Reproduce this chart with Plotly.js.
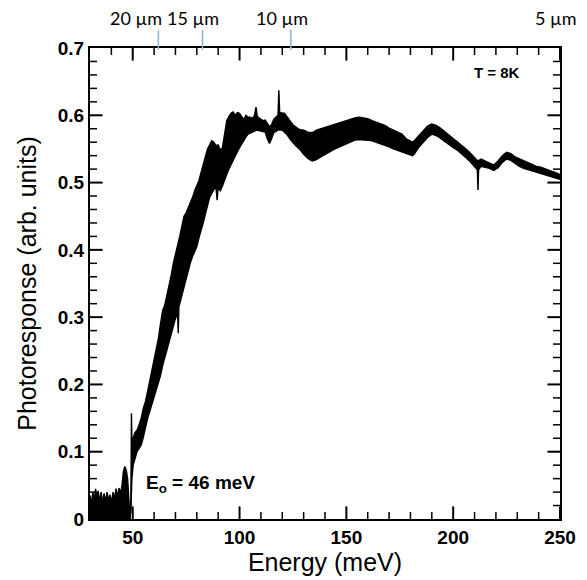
<!DOCTYPE html>
<html>
<head>
<meta charset="utf-8">
<script src="https://cdn.plot.ly/plotly-3.0.1.min.js"></script>
<style>html,body{margin:0;padding:0;background:#fff;}#chart{width:587px;height:580px;}</style>
</head>
<body>
<div id="chart"></div>
<script>
// Upper edge of the noisy photoresponse band (energy in meV, response in arb. units)
const upperE = [30,30.7,31.3,32,32.6,33.2,33.8,34.5,35.2,35.9,36.6,37.3,38,38.7,39.4,40.1,40.8,41.5,42.2,42.9,43.6,44.3,45,45.6,46.3,47,47.6,48.1,48.6,49.1,49.4,49.7,50.2,51,52,53,54,55,56,57,58,59,60,61,62,63,64,65,66,67,68,69,70,71,72,73,74,75,76,77,78,79,80,81,82,83,84,85,86,87,88,89,90,91,92,93,94,95,96,97,98,99,100,101,102,103,104,105,106,107,107.7,108.3,109,110,111,112,113,114,115,116,117,118,118.4,118.8,119.5,120,121,122,123,124,125,126,127,128,130,132,134,136,138,140,142,144,146,148,150,152,154,156,158,160,162,164,166,168,170,172,174,176,178,180,181,182,184,186,188,190,192,194,196,198,200,202,204,206,208,210,211.5,213,215,217,219,221,223,225,227,229,231,233,235,237,239,241,243,245,247,249,250];
const upperR = [0.035,0.022,0.040,0.028,0.045,0.030,0.042,0.026,0.040,0.024,0.038,0.025,0.040,0.027,0.036,0.024,0.040,0.030,0.045,0.032,0.046,0.038,0.050,0.070,0.078,0.072,0.060,0.040,0.008,0.010,0.157,0.095,0.120,0.128,0.132,0.140,0.150,0.165,0.175,0.190,0.205,0.220,0.235,0.255,0.268,0.290,0.310,0.318,0.332,0.345,0.362,0.380,0.392,0.405,0.420,0.435,0.450,0.455,0.462,0.470,0.478,0.488,0.495,0.503,0.515,0.528,0.540,0.550,0.556,0.562,0.560,0.555,0.556,0.548,0.552,0.575,0.592,0.598,0.603,0.605,0.600,0.604,0.603,0.598,0.594,0.600,0.597,0.597,0.595,0.600,0.612,0.598,0.596,0.594,0.592,0.593,0.588,0.583,0.586,0.594,0.597,0.600,0.637,0.602,0.604,0.603,0.603,0.598,0.594,0.590,0.586,0.583,0.581,0.579,0.578,0.575,0.574,0.578,0.580,0.583,0.585,0.586,0.588,0.590,0.593,0.594,0.596,0.597,0.596,0.595,0.592,0.590,0.588,0.585,0.581,0.578,0.575,0.572,0.565,0.562,0.560,0.563,0.570,0.578,0.584,0.587,0.585,0.581,0.576,0.570,0.565,0.560,0.556,0.550,0.544,0.537,0.532,0.535,0.532,0.530,0.526,0.532,0.540,0.545,0.543,0.538,0.535,0.532,0.530,0.527,0.524,0.523,0.520,0.518,0.516,0.514,0.512];

// Lower edge of the band
const lowerE = [30,48.4,48.8,49.2,49.6,50.2,51,52,53,54,55,56,57,58,59,60,61,62,63,64,65,66,67,68,69,70,71,71.3,71.6,72,73,74,75,76,77,78,79,80,81,82,83,84,85,86,87,88,89,89.5,90,91,92,93,94,95,96,97,98,99,100,101,102,103,104,105,106,108,110,112,113,114,115,116,118,120,122,124,126,128,130,132,134,136,138,140,142,144,146,148,150,152,154,156,158,160,162,164,166,168,170,172,174,176,178,180,181,182,184,186,188,190,192,194,196,198,200,202,204,206,208,210,211.3,211.6,211.9,213,215,217,219,221,223,225,227,229,231,233,235,237,239,241,243,245,247,249,250];
const lowerR = [0,0,0,0.020,0.060,0.080,0.090,0.100,0.105,0.110,0.122,0.138,0.150,0.160,0.170,0.180,0.192,0.203,0.213,0.228,0.240,0.252,0.265,0.275,0.287,0.298,0.305,0.276,0.315,0.320,0.333,0.346,0.358,0.370,0.381,0.390,0.398,0.405,0.418,0.428,0.440,0.453,0.466,0.478,0.484,0.490,0.492,0.474,0.492,0.488,0.495,0.505,0.512,0.520,0.527,0.533,0.540,0.546,0.552,0.558,0.563,0.568,0.572,0.573,0.575,0.578,0.577,0.575,0.565,0.558,0.565,0.574,0.578,0.578,0.572,0.563,0.556,0.550,0.542,0.536,0.532,0.534,0.538,0.542,0.546,0.549,0.552,0.555,0.558,0.561,0.563,0.564,0.564,0.563,0.562,0.560,0.558,0.556,0.553,0.550,0.548,0.546,0.543,0.541,0.540,0.543,0.553,0.560,0.567,0.572,0.570,0.566,0.561,0.556,0.552,0.548,0.543,0.537,0.531,0.524,0.519,0.489,0.519,0.524,0.523,0.521,0.518,0.522,0.530,0.535,0.533,0.528,0.524,0.521,0.519,0.517,0.515,0.513,0.511,0.509,0.507,0.506,0.505];

// Axis ranges and tick values
const xRange = [30, 250];
const yRange = [0, 0.7];
const xMajorTicks = [50,100,150,200,250];
const xMinorTicks = [40,60,70,80,90,110,120,130,140,160,170,180,190,210,220,230,240];
const yMajorTicks = [0.1,0.2,0.3,0.4,0.5,0.6];
const yMinorTicks = [0.02,0.04,0.06,0.08,0.12,0.14,0.16,0.18,0.22,0.24,0.26,0.28,0.32,0.34,0.36,0.38,0.42,0.44,0.46,0.48,0.52,0.54,0.56,0.58,0.62,0.64,0.66,0.68];
const wavelengths = [20,15,10,5];
const wavelengthLabels = ['20 µm','15 µm','10 µm','5 µm'];
const wavelengthMarked = [true,true,true,false];
const labelShift = [-22,-10,-9,0];

function tickTrace(vals, onX, size, width){
  const ends = onX ? yRange : xRange;
  const pos = vals.concat(vals);
  const other = vals.map(()=>ends[0]).concat(vals.map(()=>ends[1]));
  return {x: onX ? pos : other, y: onX ? other : pos, type:'scatter', mode:'markers', hoverinfo:'skip', showlegend:false, cliponaxis:true,
    marker:{symbol: onX ? 'line-ns-open' : 'line-ew-open', size:size, color:'#000', line:{width:width, color:'#000'}}};
}

const traces = [
  {x: lowerE, y: lowerR, type:'scatter', mode:'lines', line:{color:'#000', width:1.4}, hoverinfo:'skip', showlegend:false},
  {x: upperE, y: upperR, type:'scatter', mode:'lines', fill:'tonexty', fillcolor:'#000', line:{color:'#000', width:1.4}, hoverinfo:'skip', showlegend:false},
  tickTrace(xMajorTicks, true, 18, 2),
  tickTrace(xMinorTicks, true, 10, 1.5),
  tickTrace(yMajorTicks, false, 18, 2),
  tickTrace(yMinorTicks, false, 10, 1.5)
];

const shapes = [];
const annotations = [];
wavelengths.forEach((w,i)=>{
  const e = 1240/w;
  if (wavelengthMarked[i]) {
    shapes.push({type:'line', xref:'x', yref:'paper', x0:e, x1:e, y0:0.996, y1:1.038, line:{color:'#8fb1d6', width:1.5}});
  }
  annotations.push({xref:'x', yref:'paper', x:e, y:1.036, xanchor:'center', yanchor:'bottom', xshift:labelShift[i], showarrow:false,
    text:wavelengthLabels[i], font:{family:'Lato, "Open Sans", sans-serif', size:18, color:'#000'}});
});
annotations.push({xref:'x', yref:'y', x:220.5, y:0.663, text:'<b>T = 8K</b>', showarrow:false, xanchor:'center', yanchor:'middle',
  font:{family:'"Liberation Sans", Arial, sans-serif', size:15, color:'#000'}});
annotations.push({xref:'x', yref:'y', x:55.5, y:0.052, text:'<b>E<sub>o</sub> = 46 meV</b>', showarrow:false, xanchor:'left', yanchor:'middle',
  font:{family:'"Liberation Sans", Arial, sans-serif', size:19, color:'#000'}});

function axisBase(extra){
  return Object.assign({
    showline:true, linewidth:2, linecolor:'#000', mirror:true, ticks:'', 
    showgrid:false, zeroline:false, fixedrange:true,
    tickfont:{family:'"Liberation Sans", Arial, sans-serif', size:19, color:'#000', weight:'bold'}
  }, extra);
}

const layout = {
  width:587, height:580,
  margin:{l:90, r:27, t:48, b:61},
  paper_bgcolor:'#fff', plot_bgcolor:'#fff',
  showlegend:false,
  xaxis: axisBase({
    range:xRange, tick0:0, dtick:50,
    title:{text:'Energy (meV)', standoff:6, font:{family:'"Liberation Sans", Arial, sans-serif', size:25, color:'#000'}}
  }),
  yaxis: axisBase({
    range:yRange, tick0:0, dtick:0.1,
    title:{text:'Photoresponse (arb. units)', standoff:14, font:{family:'"Liberation Sans", Arial, sans-serif', size:25, color:'#000'}}
  }),
  shapes: shapes,
  annotations: annotations
};

Plotly.newPlot('chart', traces, layout, {displayModeBar:false});
</script>
</body>
</html>
